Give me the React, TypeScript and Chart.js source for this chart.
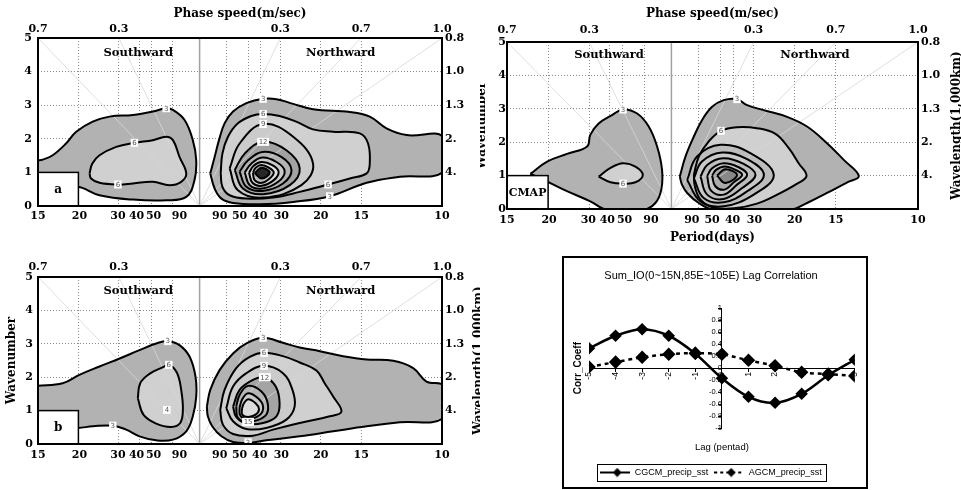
import React, { useEffect, useRef } from 'react';
import { Chart, registerables } from 'chart.js';

Chart.register(...registerables);

type P = [number, number];
type Lbl = [number, number, string];

// ---------- shared axis data (x = frequency in 10^-3 cycles/day, negative = southward) ----------
const FREQ_MIN = -66.67;
const FREQ_MAX = 100;
const PERIOD_GRID = [-66.67, -50, -33.33, -25, -20, -11.11, 11.11, 20, 25, 33.33, 50, 66.67, 100];
const PERIOD_LABEL_AT = [-66.67, -49.6, -33.7, -26.0, -19.0, -8.3, 8.3, 16.5, 24.8, 33.7, 50, 66.67, 100];
const PERIOD_LABELS = ['15', '20', '30', '40', '50', '90', '90', '50', '40', '30', '20', '15', '10'];
const SPEED_AT = [-66.67, -33.33, 33.33, 66.67, 100];
const SPEED_LABELS = ['0.7', '0.3', '0.3', '0.7', '1.0'];
const WAVENUMBER_MAX = 5;
const WAVELENGTH_AT = [1, 2, 3, 4, 5];
const WAVELENGTH_LABELS = ['4.', '2.', '1.3', '1.0', '0.8'];
const DIRECTIONS = ['Southward', 'Northward'];
const INSET_PERIOD_FREQ = -50; // period 20 days

// ---------- panel (a) contours ----------
const aSouth3: P[] = [[-66.9, 1.36], [-64.7, 1.38], [-60.6, 1.51], [-55.1, 1.86], [-50.9, 2.21], [-44.1, 2.51], [-37.2, 2.66], [-27.5, 2.71], [-19.3, 2.81], [-13.8, 2.91], [-11.0, 2.86], [-6.2, 2.56], [-2.8, 1.96], [-1.4, 1.36], [-2.1, 0.77], [-5.5, 0.27], [-13.8, 0.17], [-27.5, 0.19], [-41.3, 0.32], [-50.3, 0.57], [-66.9, 0.57]];
const aSouth6: P[] = [[-45.4, 0.97], [-44.3, 1.26], [-41.3, 1.51], [-34.4, 1.76], [-26.9, 1.88], [-19.3, 1.96], [-13.8, 2.06], [-11.0, 1.96], [-8.3, 1.46], [-5.5, 0.97], [-7.6, 0.72], [-12.4, 0.62], [-19.3, 0.72], [-27.5, 0.67], [-33.7, 0.64], [-41.3, 0.69], [-44.8, 0.82]];
const aNorth3: P[] = [[4.4, 0.97], [6.2, 1.46], [8.0, 1.96], [10.3, 2.46], [13.8, 2.81], [19.3, 3.06], [26.2, 3.19], [31.7, 3.18], [38.6, 3.04], [46.8, 2.88], [62.0, 2.80], [70.2, 2.66], [77.1, 2.31], [85.4, 2.11], [100.5, 2.06], [100.5, 1.02], [82.6, 0.87], [68.9, 0.69], [53.7, 0.29], [38.6, 0.12], [24.8, 0.05], [13.8, 0.09], [9.0, 0.22], [6.2, 0.52]];
const aNorth6: P[] = [[8.7, 0.97], [9.4, 1.56], [11.7, 2.06], [15.8, 2.46], [21.3, 2.68], [26.2, 2.74], [33.0, 2.68], [39.9, 2.51], [46.8, 2.28], [55.1, 2.21], [66.1, 2.16], [69.5, 1.86], [70.2, 1.26], [68.9, 0.97], [62.0, 0.82], [53.0, 0.64], [41.3, 0.42], [30.3, 0.25], [19.3, 0.22], [12.4, 0.32], [9.4, 0.57]];
const aNorth9: P[] = [[12.4, 1.12], [16.5, 1.86], [26.2, 2.44], [38.6, 2.06], [46.8, 1.26], [42.0, 0.62], [26.2, 0.25], [15.8, 0.47]];
const aNorth12: P[] = [[14.5, 1.07], [18.6, 1.56], [26.2, 1.91], [35.8, 1.66], [41.3, 1.12], [37.2, 0.62], [26.2, 0.35], [17.9, 0.52]];
const aNorth15: P[] = [[16.5, 1.02], [20.0, 1.36], [25.9, 1.61], [33.7, 1.46], [37.9, 1.07], [34.4, 0.67], [25.9, 0.45], [19.3, 0.57]];
const aNorth18: P[] = [[18.6, 1.0], [21.3, 1.26], [25.8, 1.44], [31.7, 1.31], [35.1, 1.04], [32.4, 0.72], [25.8, 0.52], [20.7, 0.62]];
const aNorth21: P[] = [[20.4, 0.99], [22.3, 1.2], [25.6, 1.31], [30.0, 1.22], [32.6, 1.02], [30.6, 0.77], [25.6, 0.6], [21.8, 0.69]];
const aNorth24: P[] = [[22.0, 0.99], [23.1, 1.14], [25.6, 1.22], [28.6, 1.14], [30.6, 1.0], [28.9, 0.82], [25.6, 0.69], [22.7, 0.77]];
const aNorthCore: P[] = [[22.7, 0.98], [25.6, 1.14], [28.9, 0.99], [25.6, 0.82]];
const aLabels: Lbl[] = [[-13.8, 2.91, '3'], [-26.9, 1.88, '6'], [-33.7, 0.64, '6'], [26.2, 3.19, '3'], [26.2, 2.74, '6'], [26.2, 2.44, '9'], [26.2, 1.91, '12'], [53.0, 0.64, '6'], [53.7, 0.29, '3']];

// ---------- panel (b) contours ----------
const bSouth3: P[] = [[-66.9, 1.74], [-56.5, 1.82], [-49.6, 2.07], [-41.3, 2.32], [-33.0, 2.56], [-24.8, 2.81], [-17.9, 3.01], [-13.1, 3.08], [-8.3, 2.96], [-4.1, 2.61], [-1.7, 2.02], [-1.4, 1.42], [-2.8, 0.83], [-5.5, 0.38], [-11.0, 0.13], [-17.9, 0.11], [-24.8, 0.23], [-30.3, 0.43], [-35.8, 0.55], [-44.1, 0.53], [-50.3, 0.48], [-66.9, 0.48]];
const bSouth6: P[] = [[-25.5, 1.37], [-24.5, 1.82], [-20.7, 2.1], [-15.1, 2.3], [-12.7, 2.37], [-9.4, 2.14], [-7.6, 1.62], [-6.9, 1.02], [-8.0, 0.63], [-11.7, 0.51], [-17.9, 0.61], [-23.1, 0.87]];
const bNorth3: P[] = [[3.0, 1.12], [4.4, 1.62], [8.3, 2.22], [13.8, 2.71], [19.3, 3.01], [26.2, 3.18], [34.4, 3.03], [41.3, 2.89], [49.6, 2.78], [59.2, 2.63], [68.9, 2.53], [79.9, 2.49], [88.1, 2.27], [93.6, 1.87], [100.5, 1.74], [100.5, 0.78], [82.6, 0.65], [68.9, 0.53], [55.1, 0.38], [41.3, 0.23], [27.5, 0.11], [20.0, 0.03], [13.8, 0.06], [9.0, 0.23], [5.2, 0.53], [3.4, 0.83]];
const bNorth6: P[] = [[8.5, 1.02], [10.3, 1.62], [15.1, 2.27], [20.7, 2.61], [26.6, 2.73], [34.4, 2.63], [41.3, 2.44], [48.2, 2.2], [51.6, 1.82], [55.1, 1.42], [58.5, 0.97], [53.7, 0.83], [41.3, 0.63], [30.3, 0.43], [22.0, 0.25], [13.8, 0.3], [9.6, 0.58]];
const bNorth9: P[] = [[11.0, 1.07], [13.8, 1.72], [19.3, 2.12], [26.6, 2.34], [34.4, 2.12], [38.3, 1.62], [39.2, 1.12], [35.8, 0.73], [27.5, 0.48], [19.3, 0.45], [13.8, 0.68]];
const bNorth12: P[] = [[13.8, 1.12], [16.5, 1.62], [22.0, 1.92], [26.9, 2.0], [31.4, 1.72], [33.0, 1.22], [31.7, 0.83], [26.2, 0.63], [19.3, 0.61], [15.1, 0.81]];
const bNorth15: P[] = [[15.1, 1.12], [16.5, 1.47], [20.0, 1.74], [25.5, 1.57], [28.2, 1.17], [26.9, 0.83], [20.0, 0.66], [15.8, 0.78]];
const bNorth18: P[] = [[16.5, 1.1], [17.6, 1.34], [20.0, 1.52], [24.1, 1.37], [26.2, 1.12], [24.8, 0.87], [20.0, 0.75], [16.8, 0.85]];
const bNorth21: P[] = [[17.5, 1.07], [18.3, 1.22], [20.0, 1.34], [23.1, 1.22], [24.5, 1.04], [23.1, 0.88], [20.0, 0.81], [17.6, 0.88]];
const bLabels: Lbl[] = [[-13.1, 3.08, '3'], [-12.7, 2.37, '6'], [-35.8, 0.55, '3'], [-13.5, 1.02, '4'], [26.2, 3.18, '3'], [26.6, 2.73, '6'], [26.6, 2.34, '9'], [26.9, 2.0, '12'], [20.0, 0.66, '15'], [20.0, 0.05, '3']];

// ---------- CMAP contours ----------
const cSouth3: P[] = [[-57.2, 1.05], [-50.4, 1.42], [-42.3, 1.65], [-34.2, 1.87], [-32.9, 2.22], [-29.5, 2.56], [-24.1, 2.81], [-19.6, 2.98], [-13.9, 2.86], [-9.2, 2.47], [-5.8, 1.87], [-3.8, 1.17], [-4.1, 0.58], [-6.5, 0.18], [-11.2, -0.02], [-26.1, -0.02], [-32.9, 0.23], [-43.7, 0.58], [-53.1, 0.92]];
const cSouth6: P[] = [[-29.5, 0.97], [-24.7, 1.23], [-19.6, 1.37], [-14.6, 1.27], [-11.6, 1.02], [-14.6, 0.8], [-19.6, 0.76], [-24.7, 0.8]];
const cNorth3: P[] = [[3.4, 0.97], [5.7, 1.57], [9.1, 2.17], [12.4, 2.66], [16.5, 3.06], [21.2, 3.26], [26.6, 3.29], [30.7, 3.11], [37.4, 2.96], [46.9, 2.76], [55.0, 2.47], [63.1, 1.97], [69.9, 1.47], [76.0, 0.99], [71.3, 0.8], [63.1, 0.48], [55.0, 0.18], [48.3, -0.02], [17.2, -0.02], [11.1, 0.18], [6.4, 0.48], [4.3, 0.73]];
const cNorth6: P[] = [[9.1, 1.02], [11.1, 1.57], [15.1, 2.02], [20.1, 2.34], [26.6, 2.45], [34.7, 2.42], [42.2, 2.25], [47.6, 1.82], [51.6, 1.37], [54.8, 0.99], [51.0, 0.76], [42.9, 0.43], [34.7, 0.16], [25.3, 0.02], [17.2, 0.04], [11.8, 0.28], [9.5, 0.68]];
const cNorth9: P[] = [[6.4, 0.87], [10.4, 1.57], [19.9, 1.92], [32.0, 1.67], [41.5, 1.02], [33.4, 0.43], [21.2, 0.08], [11.8, 0.23]];
const cNorth12: P[] = [[9.1, 0.92], [12.4, 1.42], [20.6, 1.69], [30.7, 1.49], [37.5, 1.02], [30.7, 0.53], [21.2, 0.2], [13.1, 0.33]];
const cNorth15: P[] = [[11.8, 0.97], [14.5, 1.32], [21.0, 1.52], [29.3, 1.35], [34.1, 1.02], [28.7, 0.63], [21.2, 0.3], [14.5, 0.43]];
const cNorth18: P[] = [[14.5, 0.99], [16.5, 1.22], [21.2, 1.37], [27.3, 1.25], [30.7, 1.02], [26.6, 0.73], [21.2, 0.43], [16.1, 0.55]];
const cNorth21: P[] = [[16.5, 1.0], [18.1, 1.17], [21.6, 1.27], [26.0, 1.17], [28.7, 1.02], [25.3, 0.8], [21.6, 0.58], [17.8, 0.68]];
const cNorthCore: P[] = [[18.5, 1.0], [21.9, 1.19], [26.6, 1.02], [21.9, 0.78]];
const cLabels: Lbl[] = [[-19.6, 2.98, '3'], [-19.6, 0.76, '6'], [26.6, 3.29, '3'], [20.1, 2.34, '6']];

// ---------- lag correlation ----------
const LAGS = [-5, -4, -3, -2, -1, 0, 1, 2, 3, 4, 5];
const CGCM = [0.33, 0.54, 0.65, 0.54, 0.24, -0.17, -0.48, -0.58, -0.43, -0.12, 0.14];
const AGCM = [0.02, 0.1, 0.18, 0.23, 0.25, 0.23, 0.13, 0.04, -0.07, -0.1, -0.13];
const LAG_TITLE = 'Sum_IO(0~15N,85E~105E) Lag Correlation';
const SERIES_NAMES = ['CGCM_precip_sst', 'AGCM_precip_sst'];

const SERIF = '"DejaVu Serif", serif';
const SANS = '"Liberation Sans", Arial, sans-serif';
const WAVENUMBER_TITLE = 'Wavenumber';
const WAVELENGTH_TITLE = 'Wavelength(1,000km)';

interface Level { pts: P[]; fill: string; }
interface PanelCfg {
  left: number; top: number; w: number; h: number;
  leftW: number; rightW: number; topH: number; bottomH: number;
  topTitle?: string; bottomTitle?: string;
  leftTitleAxis: boolean; leftTitleX?: number; rightTitleX?: number;
  leftTickPad: number; topTickPad: number; bottomTickPad: number; boxFont: number;
  levels: Level[]; labels: Lbl[]; box: string; dirK: number;
}

const G3 = '#b2b2b2';
const G6 = '#d0d0d0';

const panelA: PanelCfg = {
  left: 0, top: 0, w: 480, h: 226, leftW: 38, rightW: 38, topH: 38, bottomH: 20,
  topTitle: 'Phase speed(m/sec)', leftTitleAxis: false, leftTickPad: 6, topTickPad: 2, bottomTickPad: 4, boxFont: 12,
  levels: [
    { pts: aSouth3, fill: G3 }, { pts: aSouth6, fill: G6 },
    { pts: aNorth3, fill: G3 }, { pts: aNorth6, fill: G6 }, { pts: aNorth9, fill: '#cbcbcb' },
    { pts: aNorth12, fill: '#a2a2a2' }, { pts: aNorth15, fill: '#b4b4b4' }, { pts: aNorth18, fill: '#cacaca' },
    { pts: aNorth21, fill: '#dedede' }, { pts: aNorth24, fill: '#bdbdbd' }, { pts: aNorthCore, fill: '#262626' },
  ],
  labels: aLabels, box: 'a', dirK: 4.55,
};

const panelB: PanelCfg = {
  left: 0, top: 250, w: 480, h: 214, leftW: 38, rightW: 38, topH: 27, bottomH: 20,
  leftTitleAxis: true, rightTitleX: 479, leftTickPad: 5, topTickPad: 3, bottomTickPad: 5, boxFont: 12,
  levels: [
    { pts: bSouth3, fill: G3 }, { pts: bSouth6, fill: G6 },
    { pts: bNorth3, fill: G3 }, { pts: bNorth6, fill: G6 }, { pts: bNorth9, fill: '#cbcbcb' },
    { pts: bNorth12, fill: '#a4a4a4' }, { pts: bNorth15, fill: '#b6b6b6' }, { pts: bNorth18, fill: '#c9c9c9' },
    { pts: bNorth21, fill: '#dddddd' },
  ],
  labels: bLabels, box: 'b', dirK: 4.58,
};

const panelC: PanelCfg = {
  left: 480, top: 0, w: 481, h: 250, leftW: 27, rightW: 43, topH: 42, bottomH: 41,
  topTitle: 'Phase speed(m/sec)', bottomTitle: 'Period(days)',
  leftTitleAxis: false, leftTitleX: 1.5, rightTitleX: 476.5, leftTickPad: 1, topTickPad: 5, bottomTickPad: 5, boxFont: 11,
  levels: [
    { pts: cSouth3, fill: G3 }, { pts: cSouth6, fill: G6 },
    { pts: cNorth3, fill: G3 }, { pts: cNorth6, fill: G6 }, { pts: cNorth9, fill: '#bdbdbd' },
    { pts: cNorth12, fill: '#c9c9c9' }, { pts: cNorth15, fill: '#bcbcbc' }, { pts: cNorth18, fill: '#c6c6c6' },
    { pts: cNorth21, fill: '#ababab' }, { pts: cNorthCore, fill: '#888888' },
  ],
  labels: cLabels, box: 'CMAP', dirK: 4.62,
};

const titleFont = { family: SERIF, size: 12, weight: 'bold' as const };
const tickFont = { family: SERIF, size: 11, weight: 'bold' as const };

function fixedTicks(values: number[]) {
  return (s: any) => { s.ticks = values.map((v) => ({ value: v })); };
}

function contourConfig(cfg: PanelCfg): any {
  const datasets: any[] = [];
  const closed = (pts: P[]) => [...pts, pts[0]].map(([x, y]) => ({ x, y }));
  // filled bands first (outer to inner), drawn below everything else
  cfg.levels.forEach((lv, i) => {
    datasets.push({
      data: closed(lv.pts), showLine: true, fill: 'shape', backgroundColor: lv.fill,
      borderColor: 'rgba(0,0,0,0)', borderWidth: 0, pointRadius: 0, pointHoverRadius: 0, tension: 0.4,
      order: 300 - i,
    });
  });
  // faint constant-phase-speed rays from the origin to each phase-speed tick on the top edge
  SPEED_AT.forEach((f) => {
    datasets.push({
      data: [{ x: 0, y: 0 }, { x: f, y: WAVENUMBER_MAX }],
      showLine: true, fill: false, borderColor: 'rgba(215,215,215,0.8)', borderWidth: 1,
      pointRadius: 0, pointHoverRadius: 0, order: 100,
    });
  });
  // contour lines on top
  cfg.levels.forEach((lv, i) => {
    datasets.push({
      data: closed(lv.pts), showLine: true, fill: false, borderColor: '#000', borderWidth: 2,
      pointRadius: 0, pointHoverRadius: 0, tension: 0.4, order: -i,
    });
  });

  const decor = {
    id: 'decor',
    beforeDatasetsDraw(chart: any) {
      const { ctx, chartArea: a, scales } = chart;
      const cx = scales.x.getPixelForValue(0);
      ctx.save();
      ctx.strokeStyle = '#a0a0a0';
      ctx.lineWidth = 1.5;
      ctx.beginPath();
      ctx.moveTo(cx, a.top);
      ctx.lineTo(cx, a.bottom);
      ctx.stroke();
      ctx.restore();
    },
    afterDatasetsDraw(chart: any) {
      const { ctx, chartArea: a, scales } = chart;
      const x = scales.x;
      const y = scales.y;
      ctx.save();
      // contour labels
      ctx.font = '7px "DejaVu Sans", sans-serif';
      ctx.textAlign = 'center';
      ctx.textBaseline = 'middle';
      for (const [fx, k, t] of cfg.labels) {
        const px = x.getPixelForValue(fx);
        const py = y.getPixelForValue(k);
        const w = ctx.measureText(t).width + 3;
        ctx.fillStyle = '#ffffff';
        ctx.fillRect(px - w / 2, py - 4, w, 8);
        ctx.fillStyle = '#555';
        ctx.fillText(t, px, py + 0.5);
      }
      // direction labels
      ctx.font = `bold 11.5px ${SERIF}`;
      ctx.fillStyle = '#000';
      const py = y.getPixelForValue(cfg.dirK);
      ctx.fillText(DIRECTIONS[0], x.getPixelForValue(-25.3), py);
      ctx.fillText(DIRECTIONS[1], x.getPixelForValue(58.2), py);
      // inset label box
      const bx = x.getPixelForValue(INSET_PERIOD_FREQ);
      const by = y.getPixelForValue(1);
      ctx.fillStyle = '#fff';
      ctx.fillRect(a.left, by, bx - a.left, a.bottom - by);
      ctx.strokeStyle = '#000';
      ctx.lineWidth = 1.5;
      ctx.strokeRect(a.left, by, bx - a.left, a.bottom - by);
      ctx.fillStyle = '#000';
      ctx.font = `bold ${cfg.boxFont}px ${SERIF}`;
      ctx.fillText(cfg.box, (a.left + bx) / 2, (by + a.bottom) / 2 + 1);
      // frame
      ctx.lineWidth = 2;
      ctx.strokeRect(a.left, a.top, a.right - a.left, a.bottom - a.top);
      ctx.restore();
    },
    afterDraw(chart: any) {
      const { ctx, chartArea: a } = chart;
      const cy = (a.top + a.bottom) / 2;
      ctx.save();
      ctx.font = `bold 12px ${SERIF}`;
      ctx.fillStyle = '#000';
      ctx.textAlign = 'center';
      ctx.textBaseline = 'middle';
      const vertical = (text: string, px: number) => {
        ctx.save();
        ctx.translate(px, cy);
        ctx.rotate(-Math.PI / 2);
        ctx.fillText(text, 0, 0);
        ctx.restore();
      };
      if (cfg.leftTitleX !== undefined) vertical(WAVENUMBER_TITLE, cfg.leftTitleX);
      if (cfg.rightTitleX !== undefined) vertical(WAVELENGTH_TITLE, cfg.rightTitleX);
      ctx.restore();
    },
  };

  const dotted = { color: '#8a8a8a', lineWidth: 1, drawTicks: false, borderDash: [1, 2] };
  const dottedBorder = { display: false, dash: [1, 2] };
  const noGrid = { display: false, drawTicks: false };

  return {
    type: 'scatter',
    data: { datasets },
    options: {
      responsive: false,
      animation: false,
      events: [],
      layout: { padding: 0 },
      plugins: { legend: { display: false }, tooltip: { enabled: false }, title: { display: false } },
      scales: {
        x: {
          type: 'linear', min: FREQ_MIN, max: FREQ_MAX, position: 'bottom',
          afterBuildTicks: fixedTicks(PERIOD_GRID),
          ticks: { display: false },
          grid: dotted, border: dottedBorder,
          afterFit: (s: any) => { s.height = 0; },
        },
        xl: {
          type: 'linear', min: FREQ_MIN, max: FREQ_MAX, position: 'bottom',
          afterBuildTicks: fixedTicks(PERIOD_LABEL_AT),
          ticks: { autoSkip: false, maxRotation: 0, minRotation: 0, font: tickFont, color: '#000', padding: cfg.bottomTickPad,
            callback: (_v: any, i: number) => PERIOD_LABELS[i] },
          grid: noGrid, border: { display: false },
          title: cfg.bottomTitle
            ? { display: true, text: cfg.bottomTitle, color: '#000', font: titleFont, padding: { top: 0, bottom: 5 } }
            : { display: false },
          afterFit: (s: any) => { s.height = cfg.bottomH; },
        },
        xt: {
          type: 'linear', min: FREQ_MIN, max: FREQ_MAX, position: 'top',
          afterBuildTicks: fixedTicks(SPEED_AT),
          ticks: { autoSkip: false, maxRotation: 0, minRotation: 0, font: tickFont, color: '#000', padding: cfg.topTickPad,
            callback: (_v: any, i: number) => SPEED_LABELS[i] },
          grid: noGrid, border: { display: false },
          title: cfg.topTitle
            ? { display: true, text: cfg.topTitle, color: '#000', font: titleFont, padding: { top: 7, bottom: 0 } }
            : { display: false },
          afterFit: (s: any) => { s.height = cfg.topH; },
        },
        y: {
          type: 'linear', min: 0, max: WAVENUMBER_MAX, position: 'left',
          ticks: { stepSize: 1, font: tickFont, color: '#000', padding: cfg.leftTickPad },
          grid: dotted, border: dottedBorder,
          title: cfg.leftTitleAxis
            ? { display: true, text: WAVENUMBER_TITLE, color: '#000', font: titleFont, padding: { top: 5, bottom: 0 } }
            : { display: false },
          afterFit: (s: any) => { s.width = cfg.leftW; },
        },
        yr: {
          type: 'linear', min: 0, max: WAVENUMBER_MAX, position: 'right',
          afterBuildTicks: fixedTicks(WAVELENGTH_AT),
          ticks: { autoSkip: false, font: tickFont, color: '#000', padding: 3,
            callback: (_v: any, i: number) => WAVELENGTH_LABELS[i] },
          grid: noGrid, border: { display: false },
          afterFit: (s: any) => { s.width = cfg.rightW; },
        },
      },
    },
    plugins: [decor],
  };
}

function ContourPanel({ cfg }: { cfg: PanelCfg }) {
  const ref = useRef<HTMLCanvasElement>(null);
  useEffect(() => {
    const chart = new Chart(ref.current as HTMLCanvasElement, contourConfig(cfg));
    return () => chart.destroy();
  }, [cfg]);
  return (
    <canvas
      ref={ref}
      width={cfg.w}
      height={cfg.h}
      style={{ position: 'absolute', left: cfg.left, top: cfg.top, width: cfg.w, height: cfg.h, display: 'block' }}
    />
  );
}

function legendMarker(dashed: boolean): HTMLCanvasElement {
  const c = document.createElement('canvas');
  c.width = 30;
  c.height = 10;
  const g = c.getContext('2d') as CanvasRenderingContext2D;
  g.strokeStyle = '#000';
  g.lineWidth = 2;
  if (dashed) g.setLineDash([3, 3]);
  g.beginPath();
  g.moveTo(0, 5);
  g.lineTo(30, 5);
  g.stroke();
  g.setLineDash([]);
  g.fillStyle = '#000';
  g.beginPath();
  g.moveTo(17, 0.5);
  g.lineTo(21.5, 5);
  g.lineTo(17, 9.5);
  g.lineTo(12.5, 5);
  g.closePath();
  g.fill();
  return c;
}

function lagConfig(): any {
  const markers = [legendMarker(false), legendMarker(true)];
  const legendBox = {
    id: 'legendBox',
    afterDraw(chart: any) {
      const hb = chart.legend && chart.legend.legendHitBoxes;
      if (!hb || !hb.length) return;
      const l = Math.min(...hb.map((b: any) => b.left)) - 3;
      const r = Math.max(...hb.map((b: any) => b.left + b.width)) + 4;
      const t = Math.min(...hb.map((b: any) => b.top)) - 4;
      const bt = Math.max(...hb.map((b: any) => b.top + b.height)) + 4;
      const { ctx } = chart;
      ctx.save();
      ctx.strokeStyle = '#000';
      ctx.lineWidth = 1;
      ctx.strokeRect(Math.round(l) + 0.5, Math.round(t) + 0.5, Math.round(r - l), Math.round(bt - t));
      ctx.restore();
    },
  };
  const axisGrid = { drawOnChartArea: false, drawTicks: true, tickLength: 3, color: '#000', lineWidth: 1 };
  return {
    type: 'scatter',
    data: {
      datasets: [
        {
          label: SERIES_NAMES[0],
          data: LAGS.map((x, i) => ({ x, y: CGCM[i] })),
          showLine: true, borderColor: '#000', backgroundColor: '#000', borderWidth: 2.5,
          pointStyle: 'rectRot', pointRadius: 4.5, tension: 0.35, fill: false,
        },
        {
          label: SERIES_NAMES[1],
          data: LAGS.map((x, i) => ({ x, y: AGCM[i] })),
          showLine: true, borderColor: '#000', backgroundColor: '#000', borderWidth: 2.5, borderDash: [4, 4],
          pointStyle: 'rectRot', pointRadius: 5, tension: 0.35, fill: false,
        },
      ],
    },
    options: {
      responsive: false,
      animation: false,
      events: [],
      layout: { padding: { left: 0, right: 8, top: 0, bottom: 0 } },
      plugins: {
        tooltip: { enabled: false },
        title: { display: true, text: LAG_TITLE, color: '#000', font: { family: SANS, size: 11, weight: 'normal' }, padding: { top: 11, bottom: 26 } },
        legend: {
          display: true, position: 'bottom', maxHeight: 25,
          labels: {
            font: { family: SANS, size: 9 }, color: '#000', usePointStyle: true, pointStyleWidth: 30, padding: 6,
            generateLabels: () => SERIES_NAMES.map((name, i) => ({
              text: name, pointStyle: markers[i], fillStyle: '#000', strokeStyle: '#000', lineWidth: 0,
              hidden: false, datasetIndex: i, fontColor: '#000',
            })),
          },
        },
      },
      scales: {
        x: {
          type: 'linear', min: -5, max: 5, position: { y: 0 },
          afterBuildTicks: fixedTicks(LAGS),
          ticks: { autoSkip: false, minRotation: 90, maxRotation: 90, font: { family: SANS, size: 8.5 }, color: '#000', padding: 1 },
          grid: axisGrid, border: { display: true, color: '#000', width: 1 },
          afterFit: (s: any) => { s.height = 0; },
        },
        y: {
          type: 'linear', min: -1, max: 1, position: { x: 0 },
          ticks: { stepSize: 0.2, autoSkip: false, font: { family: SANS, size: 7.5 }, color: '#000', padding: 1,
            callback: (v: number) => { const r = Math.round(v * 10) / 10; return r === 0 ? '0' : String(r); } },
          grid: axisGrid, border: { display: true, color: '#000', width: 1 },
          afterFit: (s: any) => { s.width = 0; },
        },
        x2: {
          type: 'linear', min: -5, max: 5, position: 'bottom',
          ticks: { display: false }, grid: { display: false, drawTicks: false }, border: { display: false },
          title: { display: true, text: 'Lag (pentad)', color: '#000', font: { family: SANS, size: 9.5 }, padding: { top: 0, bottom: 9 } },
          afterFit: (s: any) => { s.height = 34; },
        },
        y2: {
          type: 'linear', min: -1, max: 1, position: 'left',
          ticks: { display: false }, grid: { display: false, drawTicks: false }, border: { display: false },
          title: { display: true, text: 'Corr_Coeff', color: '#000', font: { family: SANS, size: 10, weight: 'bold' }, padding: { top: 8, bottom: 0 } },
          afterFit: (s: any) => { s.width = 25; },
        },
      },
    },
    plugins: [legendBox],
  };
}

function LagPanel() {
  const ref = useRef<HTMLCanvasElement>(null);
  useEffect(() => {
    const chart = new Chart(ref.current as HTMLCanvasElement, lagConfig());
    return () => chart.destroy();
  }, []);
  return (
    <div style={{ position: 'absolute', left: 562, top: 256, width: 306, height: 233, border: '2px solid #000', boxSizing: 'border-box', background: '#fff' }}>
      <canvas ref={ref} width={302} height={229} style={{ display: 'block', width: 302, height: 229 }} />
    </div>
  );
}

export default function App() {
  return (
    <div style={{ position: 'absolute', left: 0, top: 0, width: 961, height: 490, background: '#fff', overflow: 'hidden' }}>
      <ContourPanel cfg={panelA} />
      <ContourPanel cfg={panelC} />
      <ContourPanel cfg={panelB} />
      <LagPanel />
    </div>
  );
}
